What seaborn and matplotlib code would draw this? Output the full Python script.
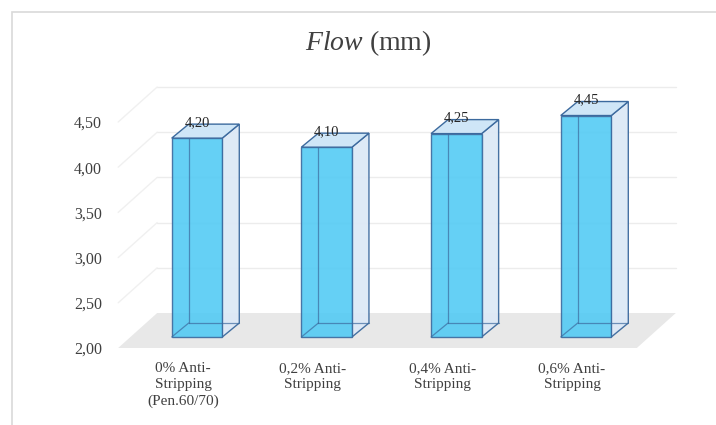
import matplotlib
matplotlib.use("Agg")
import matplotlib.pyplot as plt
from matplotlib.patches import Polygon, Rectangle
from matplotlib.lines import Line2D
from matplotlib.transforms import ScaledTranslation
import seaborn as sns

# ---- data -------------------------------------------------------------
categories = [
    "0% Anti-\nStripping\n(Pen.60/70)",
    "0,2% Anti-\nStripping",
    "0,4% Anti-\nStripping",
    "0,6% Anti-\nStripping",
]
flow_mm = [4.20, 4.10, 4.25, 4.45]
y_ticks = [2.00, 2.50, 3.00, 3.50, 4.00, 4.50]
y_floor = 2.00


def comma(v):
    return f"{v:.2f}".replace(".", ",")


# ---- style ------------------------------------------------------------
sns.set_theme(style="white")
plt.rcParams["font.family"] = ["Liberation Serif", "DejaVu Serif"]
plt.rcParams["mathtext.fontset"] = "custom"
plt.rcParams["mathtext.it"] = "Liberation Serif:italic"
plt.rcParams["mathtext.rm"] = "Liberation Serif"

FRONT = "#54CBF4"
SIDE = "#DDE9F6"
TOP = "#CFE6F7"
EDGE = "#3C6A9E"
FLOOR = "#E8E8E8"
GRID = "#ECECEC"
TEXT = "#404040"

DPI = 100
W, H = 716, 425
fig = plt.figure(figsize=(W / DPI, H / DPI), dpi=DPI)
fig.patch.set_facecolor("white")

# axes frame in pixels (left, right, bottom, top measured from the top edge)
ax_l, ax_r, ax_b, ax_t = 110, 700, 348, 60
ax = fig.add_axes([ax_l / W, (H - ax_b) / H, (ax_r - ax_l) / W, (ax_b - ax_t) / H])

sns.barplot(x=categories, y=flow_mm, ax=ax, width=0.39, color=FRONT,
            saturation=1, edgecolor=EDGE, linewidth=1.0, alpha=0.9, zorder=4)

ax.set_xlim(-0.563, 3.987)
ax.set_ylim(y_floor, 5.186)

# pixels per data unit, used for the pseudo-3D depth offsets
p0 = ax.transData.transform((0, 0))
p1 = ax.transData.transform((1, 1))
ppx, ppy = p1[0] - p0[0], p1[1] - p0[1]

BAR_SHIFT = (14, 11)   # front face sits behind the floor's front edge
BAR_DEPTH = (17, 14)   # depth of each box
WALL_DEPTH = (39, 35)  # depth of floor / back wall


def off(x, y, d):
    return (x + d[0] / ppx, y + d[1] / ppy)


# floor and walls
x0f, x1f = -0.5, len(categories) - 0.5
ax.add_patch(Polygon([(x0f, y_floor), (x1f, y_floor),
                      off(x1f, y_floor, WALL_DEPTH), off(x0f, y_floor, WALL_DEPTH)],
                     closed=True, fc=FLOOR, ec="none", zorder=0.5))
for t in y_ticks[1:]:
    a = off(x0f, t, WALL_DEPTH)
    b = off(x1f, t, WALL_DEPTH)
    ax.add_line(Line2D([a[0], b[0]], [a[1], b[1]], color=GRID, lw=1, zorder=0.6))
    ax.add_line(Line2D([x0f, a[0]], [t, a[1]], color="#F0F0F0", lw=1, zorder=0.6))

# boxes
shift = ScaledTranslation(BAR_SHIFT[0] / DPI, BAR_SHIFT[1] / DPI, fig.dpi_scale_trans)
for p, v in zip(ax.patches, flow_mm):
    p.set_y(y_floor)
    p.set_height(v - y_floor)
    p.set_transform(ax.transData + shift)

    x0, yb = off(p.get_x(), y_floor, BAR_SHIFT)
    x1 = x0 + p.get_width()
    yt = yb + (v - y_floor)
    x0b, ybb = off(x0, yb, BAR_DEPTH)
    x1b, _ = off(x1, yb, BAR_DEPTH)
    ytb = yt + BAR_DEPTH[1] / ppy

    ax.add_patch(Polygon([(x1, yb), (x1b, ybb), (x1b, ytb), (x1, yt)], closed=True,
                         fc=SIDE, ec=EDGE, lw=1.0, alpha=0.95, zorder=3))
    ax.add_patch(Polygon([(x0, yt), (x1, yt), (x1b, ytb), (x0b, ytb)], closed=True,
                         fc=TOP, ec=EDGE, lw=1.0, zorder=5))
    for (xa, ya), (xb, yb2) in [((x0b, ybb), (x0b, ytb)),
                                ((x0b, ybb), (x1b, ybb)),
                                ((x0, yb), (x0b, ybb))]:
        ax.add_line(Line2D([xa, xb], [ya, yb2], color=EDGE, lw=0.9, alpha=0.7, zorder=4.5))

    ax.annotate(comma(v), xy=(p.get_x() + p.get_width() / 2, v),
                xytext=(BAR_SHIFT[0], BAR_SHIFT[1] + BAR_DEPTH[1] - 2),
                textcoords="offset pixels", ha="center", va="baseline",
                fontsize=10.5, color="#262626", zorder=6)

# axes cosmetics
ax.set_yticks(y_ticks)
ax.set_yticklabels([comma(t) for t in y_ticks])
ax.set_xticks(range(len(categories)))
ax.set_xticklabels(categories, linespacing=1.35)
ax.tick_params(axis="y", length=0, pad=5.8, labelsize=11.5, labelcolor=TEXT)
ax.tick_params(axis="x", length=0, pad=10, labelsize=11, labelcolor=TEXT)
for s in ax.spines.values():
    s.set_visible(False)
ax.grid(False)
ax.set_facecolor("none")
ax.set_xlabel("")
ax.set_ylabel("")

fig.text(368 / W, 1 - 43 / H, r"$\mathit{Flow}$ (mm)", ha="center", va="center",
         fontsize=20, color=TEXT)

# chart-area border
fig.add_artist(Rectangle((12 / W, -0.1), 1.2, (H - 12) / H + 0.1,
                         transform=fig.transFigure, fill=False, ec="#D9D9D9", lw=1.2))

fig.savefig("out.png", dpi=DPI)
